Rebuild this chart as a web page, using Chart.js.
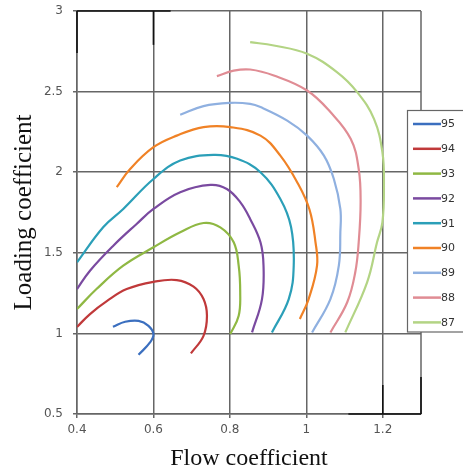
<!DOCTYPE html>
<html>
<head>
<meta charset="utf-8">
<script src="https://cdn.jsdelivr.net/npm/chart.js@4/dist/chart.umd.min.js"></script>
<style>
  html, body { margin: 0; padding: 0; background: #fff; }
  #wrap { width: 463px; height: 475px; }
</style>
</head>
<body>
<div id="wrap"><canvas id="effChart" width="463" height="475"></canvas></div>
<script>
// efficiency contour levels and their colours
const levels = ['95', '94', '93', '92', '91', '90', '89', '88', '87'];
const colors = ['#3b6fbf', '#c0393a', '#8fb843', '#7a4aa0', '#2b9fb8', '#f08226', '#8fb0e0', '#e08c94', '#b3d484'];

// contour lines (flow coefficient, loading coefficient)
const x95 = [0.494, 0.526, 0.561, 0.587, 0.600, 0.591, 0.561];
const y95 = [1.041, 1.072, 1.078, 1.047, 0.996, 0.944, 0.867];

const x94 = [0.400, 0.434, 0.478, 0.530, 0.600, 0.661, 0.705, 0.731, 0.740, 0.731, 0.698];
const y94 = [1.040, 1.120, 1.200, 1.275, 1.320, 1.331, 1.290, 1.213, 1.109, 0.985, 0.876];

const x93 = [0.400, 0.451, 0.521, 0.600, 0.670, 0.731, 0.775, 0.810, 0.823, 0.827, 0.823, 0.801];
const y93 = [1.151, 1.275, 1.420, 1.534, 1.627, 1.685, 1.658, 1.565, 1.420, 1.255, 1.109, 0.996];

const x92 = [0.400, 0.434, 0.495, 0.556, 0.600, 0.670, 0.749, 0.792, 0.827, 0.853, 0.880, 0.888, 0.884, 0.858];
const y92 = [1.275, 1.389, 1.544, 1.679, 1.772, 1.876, 1.921, 1.896, 1.814, 1.710, 1.565, 1.420, 1.213, 1.006];

const x91 = [0.400, 0.469, 0.521, 0.600, 0.670, 0.757, 0.819, 0.880, 0.932, 0.960, 0.967, 0.954, 0.910];
const y91 = [1.441, 1.660, 1.772, 1.958, 2.072, 2.107, 2.083, 2.000, 1.834, 1.660, 1.420, 1.213, 1.006];

const x90 = [0.504, 0.539, 0.600, 0.661, 0.731, 0.801, 0.880, 0.932, 0.976, 1.008, 1.024, 1.028, 1.006, 0.983];
const y90 = [1.907, 2.020, 2.155, 2.227, 2.280, 2.280, 2.227, 2.103, 1.938, 1.770, 1.565, 1.420, 1.213, 1.089];

const x89 = [0.670, 0.731, 0.801, 0.853, 0.880, 0.950, 1.002, 1.046, 1.072, 1.089, 1.089, 1.085, 1.063, 1.015];
const y89 = [2.356, 2.410, 2.430, 2.424, 2.404, 2.320, 2.227, 2.103, 1.958, 1.772, 1.627, 1.420, 1.213, 1.006];

const x88 = [0.766, 0.810, 0.853, 0.915, 1.002, 1.063, 1.116, 1.137, 1.142, 1.137, 1.128, 1.107, 1.063];
const y88 = [2.596, 2.630, 2.637, 2.600, 2.507, 2.373, 2.207, 2.020, 1.814, 1.565, 1.379, 1.193, 1.006];

const x87 = [0.853, 0.915, 1.002, 1.080, 1.133, 1.177, 1.199, 1.203, 1.199, 1.185, 1.159, 1.102];
const y87 = [2.807, 2.786, 2.735, 2.621, 2.497, 2.331, 2.124, 1.917, 1.689, 1.565, 1.317, 1.006];

const xs = [x95, x94, x93, x92, x91, x90, x89, x88, x87];
const ys = [y95, y94, y93, y92, y91, y90, y89, y88, y87];

const xTicks = [0.4, 0.6, 0.8, 1, 1.2];
const yTicks = [0.5, 1, 1.5, 2, 2.5, 3];

function toPoints(xa, ya) {
    const pts = [];
    for (let i = 0; i < xa.length; i++) {
        pts.push({ x: xa[i], y: ya[i] });
    }
    return pts;
}

const datasets = levels.map((lab, i) => ({
    label: lab,
    data: toPoints(xs[i], ys[i]),
    borderColor: colors[i],
    backgroundColor: colors[i],
    borderWidth: 2.2,
    pointRadius: 0,
    tension: 0.4,
    fill: false
}));

// frame on the right, plus the darker corner strokes of the original scan
const frameLines = {
    id: 'frameLines',
    beforeDatasetsDraw(chart) {
        const c = chart.ctx;
        const sx = chart.scales.x, sy = chart.scales.y;
        const a = chart.chartArea;
        c.save();
        c.strokeStyle = '#666';
        c.lineWidth = 1.5;
        c.beginPath();
        c.moveTo(a.right, a.top);
        c.lineTo(a.right, a.bottom);
        c.stroke();

        c.strokeStyle = '#111';
        c.lineWidth = 1.6;
        const seg = (x1, y1, x2, y2) => {
            c.beginPath();
            c.moveTo(sx.getPixelForValue(x1), sy.getPixelForValue(y1));
            c.lineTo(sx.getPixelForValue(x2), sy.getPixelForValue(y2));
            c.stroke();
        };
        seg(0.4, 3, 0.645, 3);
        seg(0.4, 3, 0.4, 2.74);
        seg(0.6, 3, 0.6, 2.79);
        seg(1.11, 0.5, 1.3, 0.5);
        seg(1.2, 0.5, 1.2, 0.68);
        seg(1.3, 0.5, 1.3, 0.73);
        c.restore();
    }
};

// legend box drawn by hand, it sits over the right edge of the plot
const boxLegend = {
    id: 'boxLegend',
    afterDraw(chart) {
        const c = chart.ctx;
        const left = 407.5, top = 110.5, right = 470, bottom = 332;
        c.save();
        c.fillStyle = '#fff';
        c.fillRect(left, top, right - left, bottom - top);
        c.strokeStyle = '#666';
        c.lineWidth = 1.2;
        c.strokeRect(left, top, right - left, bottom - top);
        c.font = '11px "DejaVu Sans"';
        c.textBaseline = 'middle';
        chart.data.datasets.forEach((ds, i) => {
            const y = 124 + i * 24.8;
            c.strokeStyle = ds.borderColor;
            c.lineWidth = 2.5;
            c.beginPath();
            c.moveTo(413, y);
            c.lineTo(441, y);
            c.stroke();
            c.fillStyle = '#333';
            c.fillText(ds.label, 441, y + 0.5);
        });
        c.restore();
    }
};

new Chart(document.getElementById('effChart'), {
    type: 'line',
    data: { datasets: datasets },
    plugins: [frameLines, boxLegend],
    options: {
        responsive: false,
        animation: false,
        layout: { padding: { top: 11, right: 42, left: 0, bottom: 0 } },
        plugins: {
            legend: { display: false },
            tooltip: { enabled: false }
        },
        scales: {
            x: {
                type: 'linear',
                min: 0.4,
                max: 1.3,
                afterBuildTicks: s => { s.ticks = xTicks.map(v => ({ value: v })); },
                afterFit: s => { s.height = 61; s.paddingLeft = 0; s.paddingRight = 0; },
                grid: { color: '#666', lineWidth: 1.5, tickLength: 4 },
                border: { color: '#666', width: 1.5 },
                ticks: {
                    color: '#555',
                    font: { family: 'DejaVu Sans', size: 12 },
                    padding: 5,
                    maxRotation: 0,
                    callback: v => String(v)
                },
                title: {
                    display: true,
                    text: 'Flow coefficient',
                    color: '#111',
                    font: { family: 'Liberation Serif', size: 24, lineHeight: 1 },
                    padding: { top: 1 }
                }
            },
            y: {
                type: 'linear',
                min: 0.5,
                max: 3,
                afterBuildTicks: s => { s.ticks = yTicks.map(v => ({ value: v })); },
                afterFit: s => { s.width = 77; s.paddingTop = 0; s.paddingBottom = 0; },
                grid: { color: '#666', lineWidth: 1.5, tickLength: 4 },
                border: { color: '#666', width: 1.5 },
                ticks: {
                    color: '#555',
                    font: { family: 'DejaVu Sans', size: 12 },
                    padding: 10,
                    callback: v => String(v)
                },
                title: {
                    display: true,
                    text: 'Loading coefficient',
                    color: '#111',
                    font: { family: 'Liberation Serif', size: 25, lineHeight: 1 },
                    padding: { top: 12 }
                }
            }
        }
    }
});
</script>
</body>
</html>
